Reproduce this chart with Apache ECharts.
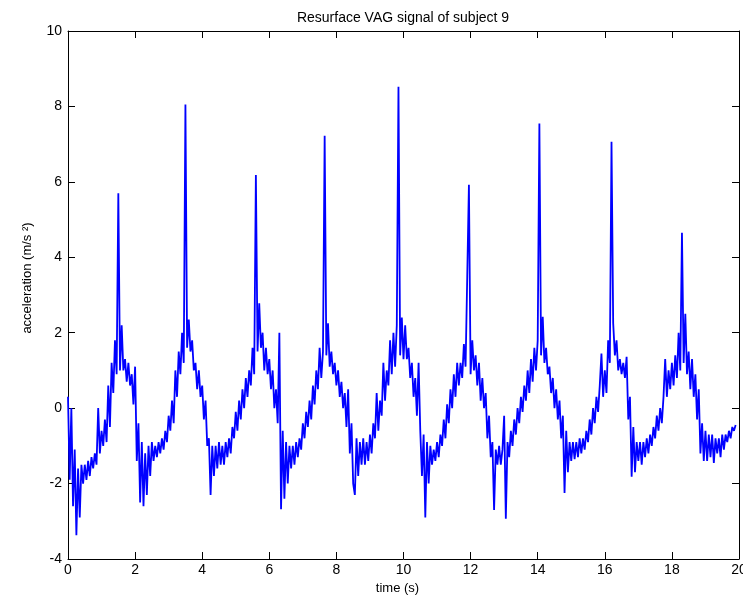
<!DOCTYPE html>
<html>
<head>
<meta charset="utf-8">
<script src="https://cdn.jsdelivr.net/npm/echarts@6/dist/echarts.min.js"></script>
<style>html,body{margin:0;padding:0;background:#fff;}#chart{width:743px;height:606px;}</style>
</head>
<body>
<div id="chart"></div>
<script>
// Chart text
const chartTitle = 'Resurface VAG signal of subject 9';
const xAxisName = 'time (s)';
const yAxisName = 'acceleration (m/s ²)';

// Axis ranges / ticks
const xTicks = [0, 2, 4, 6, 8, 10, 12, 14, 16, 18, 20];
const yTicks = [-4, -2, 0, 2, 4, 6, 8, 10];

// Sampling of the signal (seconds between successive samples, first sample time)
const sampleStep = 0.05;
const startTime = 0;

// Acceleration samples (m/s^2), one row per second
const accel = [
  0.3, -1.9, 0.0, -2.6, -1.1, -3.37, -1.6, -2.9, -1.5, -2.0, -1.5, -1.9, -1.4, -1.8, -1.3, -1.6, -1.2, -1.5, 0.0, -1.2,
  -0.6, -1.0, -0.3, -0.9, 0.6, -0.5, 1.2, 0.4, 1.8, 0.9, 5.70, 1.0, 2.2, 1.0, 1.3, 0.7, 1.2, 0.6, 0.9, 0.1,
  1.1, -1.4, -0.4, -2.5, -0.9, -2.6, -1.2, -2.3, -1.0, -1.8, -0.9, -1.4, -1.0, -1.3, -0.9, -1.2, -0.8, -1.1, -0.6, -0.9,
  -0.2, -0.6, 0.2, -0.4, 1.0, 0.3, 1.5, 0.9, 2.0, 1.2, 8.05, 1.6, 2.35, 1.5, 1.8, 1.0, 1.2, 0.5, 1.0, 0.3,
  0.6, -0.3, 0.2, -1.0, -0.8, -2.3, -1.0, -1.8, -1.0, -1.6, -0.9, -1.5, -1.0, -1.5, -0.9, -1.3, -0.8, -1.2, -0.5, -0.8,
  -0.1, -0.6, 0.2, -0.3, 0.5, 0.0, 0.8, 0.3, 1.0, 0.6, 1.6, 0.9, 6.18, 1.5, 2.78, 1.6, 2.0, 1.0, 1.6, 0.9,
  1.3, 0.5, 1.0, 0.0, 0.5, -0.4, 2.0, -2.68, -0.6, -2.4, -0.9, -2.0, -1.0, -1.6, -1.0, -1.5, -0.9, -1.3, -0.8, -1.1,
  -0.4, -0.8, -0.1, -0.5, 0.2, -0.3, 0.6, 0.1, 1.0, 0.5, 1.6, 0.8, 1.5, 7.22, 1.4, 2.25, 1.1, 1.5, 0.9, 1.2,
  0.6, 1.0, 0.3, 0.7, 0.0, 0.4, -0.5, 0.5, -1.2, -0.4, -2.0, -2.3, -0.8, -1.8, -0.9, -1.5, -0.8, -1.5, -0.9, -1.4,
  -0.7, -1.2, -0.4, -0.8, 0.4, -0.6, 0.2, -0.2, 1.2, 0.2, 1.0, 0.6, 1.8, 0.9, 2.0, 1.1, 2.2, 8.52, 1.4, 2.4,
  1.3, 2.2, 1.3, 1.6, 0.8, 1.2, 0.3, 0.8, -0.2, 1.2, -0.6, -1.8, -0.7, -2.9, -0.9, -2.0, -1.0, -1.5, -1.1, -1.4,
  -0.9, -1.3, -0.7, -1.0, -0.3, -0.8, 0.1, -0.4, 0.5, 0.0, 0.9, 0.3, 1.2, 0.6, 1.2, 0.8, 1.7, 1.1, 3.5, 5.92,
  0.9, 1.8, 1.0, 1.4, 0.6, 1.2, 0.2, 0.8, 0.0, 0.4, -0.8, -0.2, -1.3, -0.9, -2.7, -1.1, -1.5, -1.0, -1.5, -1.1,
  -0.2, -2.93, -0.9, -1.3, -0.6, -1.0, -0.3, -0.7, 0.0, -0.4, 0.3, -0.1, 0.6, 0.2, 1.0, 0.4, 1.3, 0.7, 1.6, 1.0,
  1.8, 7.55, 1.4, 2.42, 1.2, 1.6, 0.9, 1.1, 0.4, 0.8, 0.0, 0.5, -0.3, 0.2, -0.8, -0.2, -2.25, -0.6, -1.7, -0.9,
  -1.4, -0.9, -1.35, -0.9, -1.3, -0.8, -1.2, -0.8, -1.1, -0.6, -0.9, -0.3, -0.7, 0.0, -0.4, 0.3, -0.1, 0.6, 1.45, 0.3,
  1.0, 0.4, 1.8, 1.2, 7.06, 2.25, 1.4, 1.8, 1.0, 1.3, 0.9, 1.2, 0.8, 1.36, -0.3, 0.3, -1.82, -0.5, -1.7, -0.9,
  -1.4, -0.9, -1.5, -0.9, -1.3, -0.8, -1.2, -0.7, -1.0, -0.5, -0.8, -0.2, -0.6, 0.0, -0.4, 0.3, 1.3, 0.3, 1.0, 0.5,
  1.2, 0.6, 1.4, 0.8, 2.0, 1.0, 4.65, 1.2, 2.5, 0.9, 1.5, 0.5, 1.3, 0.3, 0.9, -0.3, 0.5, -1.2, -0.4, -1.4,
  -0.6, -1.4, -0.7, -1.3, -0.7, -1.45, -0.8, -1.2, -0.8, -1.3, -0.7, -1.1, -0.7, -0.9, -0.6, -0.8, -0.5, -0.6, -0.45
];

const seriesData = accel.map((v, i) => [+(startTime + i * sampleStep).toFixed(2), v]);

const FONT = 'Liberation Sans, Arial, sans-serif';
const axisCommon = {
  axisLine: { show: true, onZero: false, lineStyle: { color: '#000', width: 1 } },
  axisTick: { show: true, inside: true, length: 7, lineStyle: { color: '#000', width: 1 } },
  splitLine: { show: false }
};

const chart = echarts.init(document.getElementById('chart'), null, { renderer: 'canvas' });
chart.setOption({
  animation: false,
  backgroundColor: '#fff',
  title: {
    text: chartTitle,
    left: 398, top: 6, textAlign: 'center',
    textStyle: { fontFamily: FONT, fontSize: 14, fontWeight: 'normal', color: '#000' }
  },
  grid: { left: 68, top: 31, right: 4, bottom: 47, containLabel: false, outerBoundsMode: 'none', show: false },
  xAxis: [
    Object.assign({
      type: 'value', position: 'bottom', min: xTicks[0], max: xTicks[xTicks.length - 1], interval: 2,
      name: xAxisName, nameLocation: 'middle', nameGap: 19,
      nameTextStyle: { fontFamily: FONT, fontSize: 13, color: '#000', padding: [0, 12, 0, 0] },
      axisLabel: { show: true, margin: 4, fontFamily: FONT, fontSize: 14, color: '#000', showMaxLabel: true, showMinLabel: true }
    }, axisCommon),
    Object.assign({
      type: 'value', position: 'top', min: xTicks[0], max: xTicks[xTicks.length - 1], interval: 2,
      axisLabel: { show: false }
    }, axisCommon)
  ],
  yAxis: [
    Object.assign({
      type: 'value', position: 'left', min: yTicks[0], max: yTicks[yTicks.length - 1], interval: 2,
      name: yAxisName, nameLocation: 'middle', nameGap: 34, nameRotate: 90,
      nameTextStyle: { fontFamily: FONT, fontSize: 13, color: '#000', align: 'center', padding: [0, 0, 0, 34] },
      axisLabel: { show: true, margin: 6, fontFamily: FONT, fontSize: 14, color: '#000' }
    }, axisCommon),
    Object.assign({
      type: 'value', position: 'right', min: yTicks[0], max: yTicks[yTicks.length - 1], interval: 2,
      axisLabel: { show: false }
    }, axisCommon)
  ],
  series: [{
    type: 'line',
    data: seriesData,
    xAxisIndex: 0, yAxisIndex: 0,
    showSymbol: false,
    symbol: 'none',
    sampling: null,
    lineStyle: { color: '#0000ff', width: 1.8 },
    itemStyle: { color: '#0000ff' },
    clip: true
  }]
});
</script>
</body>
</html>
